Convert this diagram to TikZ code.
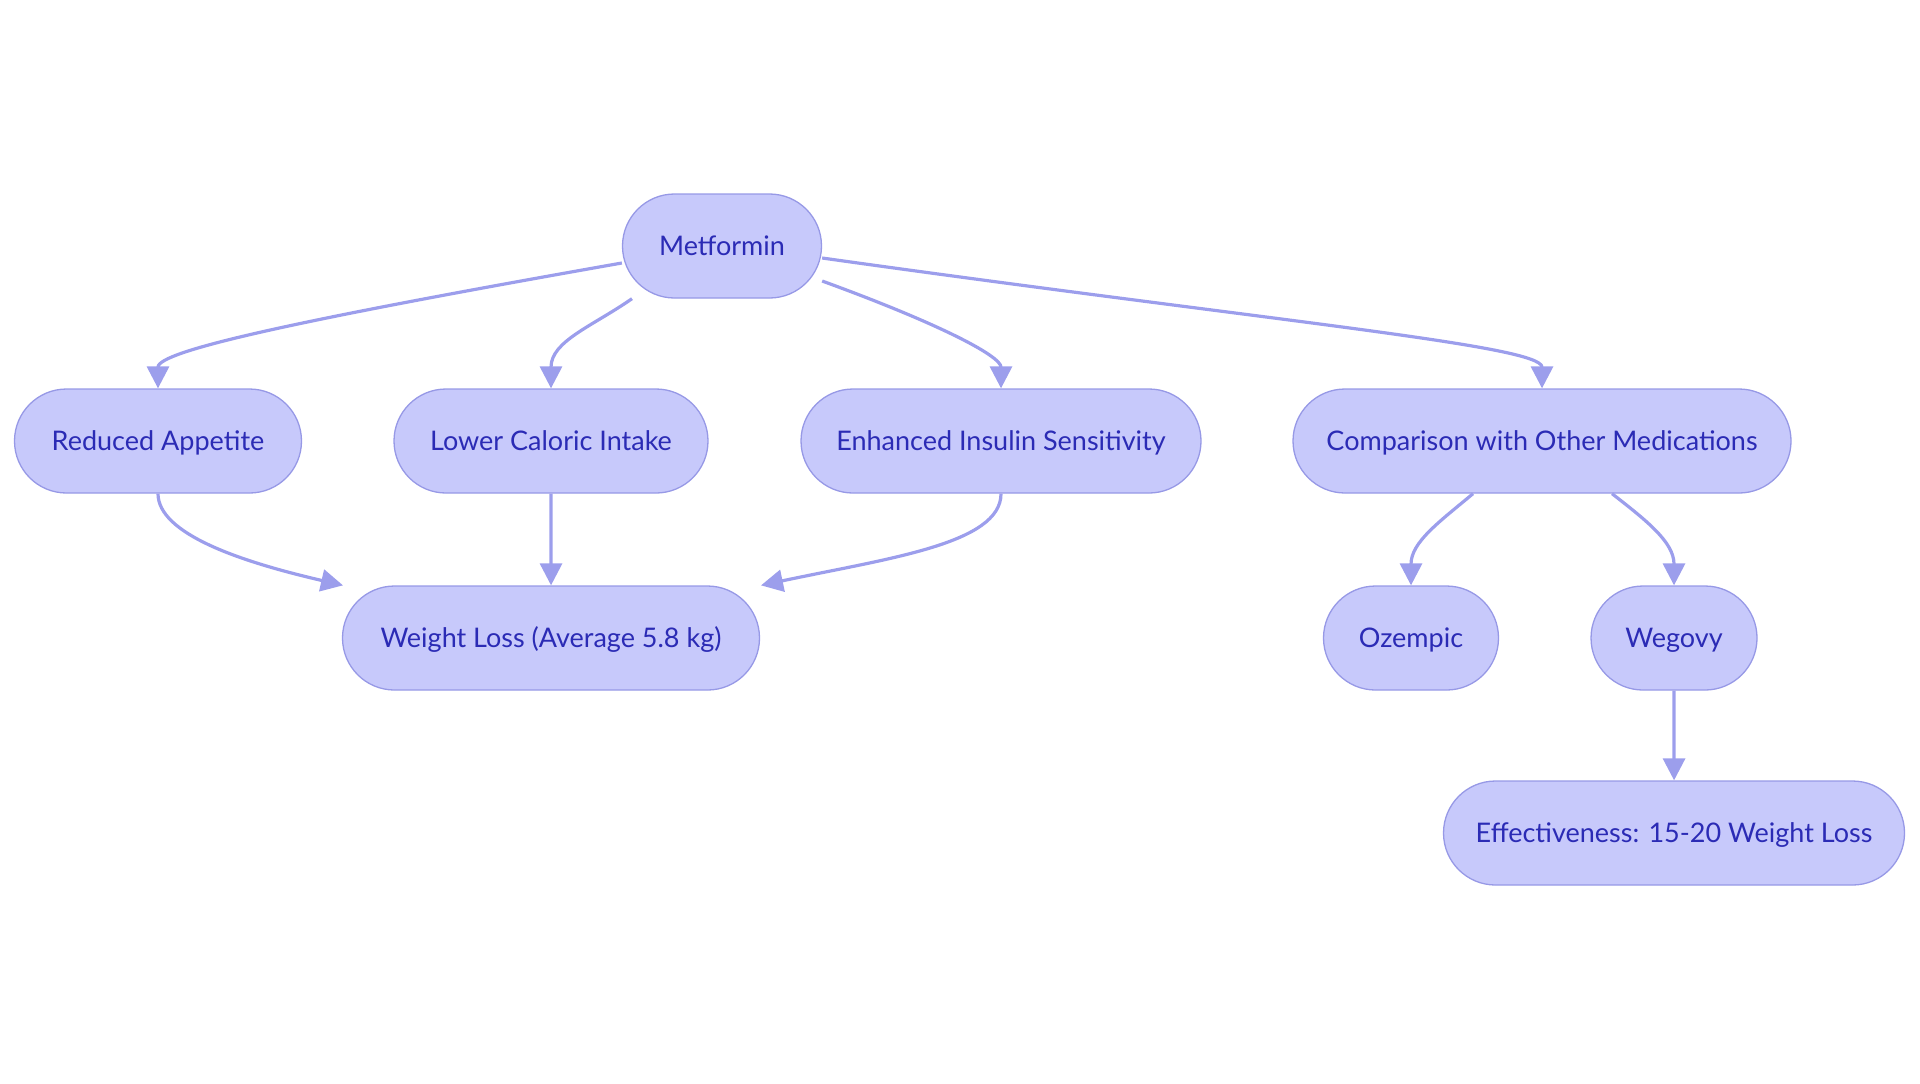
\documentclass[tikz,border=0pt]{standalone}
\usepackage{fontspec}
\setmainfont{Lato}
\usetikzlibrary{shapes.misc,arrows.meta}
\definecolor{boxfill}{HTML}{C7C9FB}
\definecolor{boxline}{HTML}{9799E6}
\definecolor{edge}{HTML}{9C9EEC}
\definecolor{label}{HTML}{2B2BB5}

\begin{document}
\begin{tikzpicture}[x=0.5pt,y=0.5pt,
	box/.style={rounded rectangle,draw=boxline,line width=0.65pt,fill=boxfill,text=label,minimum height=52pt,inner xsep=0pt,text height=12pt,text depth=3pt,font=\fontsize{13.5}{16}\selectfont},
	link/.style={draw=edge,line width=1.6pt,-{Triangle[length=11pt,width=11pt]}}]
		\useasboundingbox (0,0) rectangle (1920,-1083);
		\node[box,minimum width=99.5pt] (met) at (722,-246) {Metformin};
		\node[box,minimum width=143.5pt] (rap) at (158,-441) {Reduced Appetite};
		\node[box,minimum width=157pt] (lci) at (551,-441) {Lower Caloric Intake};
		\node[box,minimum width=200pt] (eis) at (1001,-441) {Enhanced Insulin Sensitivity};
		\node[box,minimum width=249pt] (cmp) at (1542,-441) {Comparison with Other Medications};
		\node[box,minimum width=208.5pt] (wls) at (551,-638) {Weight Loss (Average 5.8 kg)};
		\node[box,minimum width=87.5pt] (oze) at (1411,-638) {Ozempic};
		\node[box,minimum width=83pt] (weg) at (1674,-638) {Wegovy};
		\node[box,minimum width=230.5pt] (eff) at (1674,-833) {Effectiveness: 15-20 Weight Loss};
		\draw[link] ([yshift=-8.5pt]met.west) to[out=190,in=90,out looseness=1.75,in looseness=0.2] (rap.north);
		\draw[link] ([xshift=-45pt]met.south) to[out=215,in=90] (lci.north);
		\draw[link] ([yshift=-17.5pt]met.east) to[out=-20,in=90,out looseness=1.5,in looseness=0.4] (eis.north);
		\draw[link] ([yshift=-6pt]met.east) to[out=-8,in=90,out looseness=1.6,in looseness=0.15] (cmp.north);
		\draw[link] (rap.south) to[out=270,in=167,out looseness=0.5,in looseness=1.3] ([xshift=-104pt]wls.north);
		\draw[link] (lci) -- (wls);
		\draw[link] (eis.south) to[out=270,in=12,out looseness=0.5,in looseness=1.3] ([xshift=105pt]wls.north);
		\draw[link] ([xshift=-34.5pt]cmp.south) to[out=220,in=90] (oze.north);
		\draw[link] ([xshift=35pt]cmp.south) to[out=-38,in=90] (weg.north);
		\draw[link] (weg) -- (eff);
	\end{tikzpicture}
\end{document}
